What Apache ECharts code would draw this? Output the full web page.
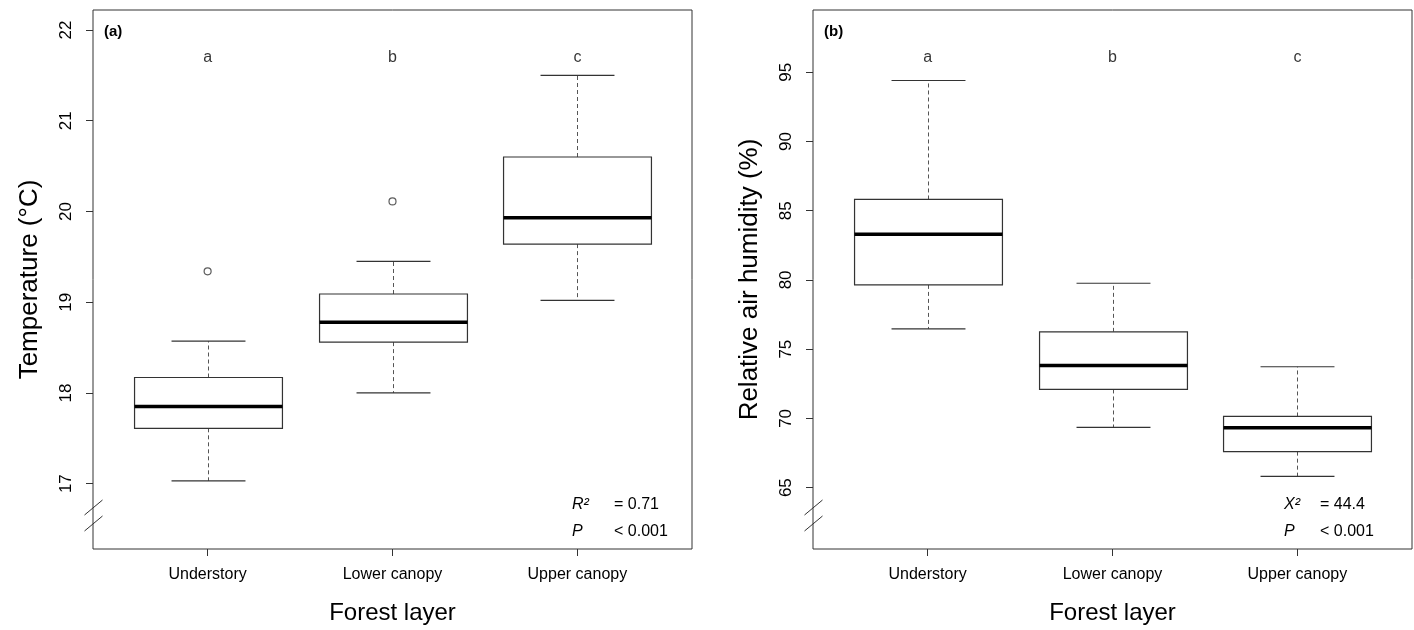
<!DOCTYPE html>
<html><head><meta charset="utf-8">
<script src="https://cdn.jsdelivr.net/npm/echarts@6/dist/echarts.min.js"></script>
<style>html,body{margin:0;padding:0;background:#fff}#c{width:1414px;height:630px}</style>
</head><body><div id="c"></div>
<script>
// ---------- data ----------
const categories = ['Understory', 'Lower canopy', 'Upper canopy'];
// each box: [lower whisker, Q1, median, Q3, upper whisker]
const tempBoxes = [
  [17.03, 17.61, 17.85, 18.17, 18.57],
  [18.00, 18.56, 18.78, 19.09, 19.45],
  [19.02, 19.64, 19.93, 20.60, 21.50]
];
const tempOutliers = [[1, 19.34], [2, 20.11]];
const humBoxes = [
  [76.47, 79.64, 83.30, 85.81, 94.40],
  [69.35, 72.09, 73.82, 76.25, 79.76],
  [65.81, 67.60, 69.33, 70.14, 73.73]
];
const humOutliers = [];
const tempTicks = [17, 18, 19, 20, 21, 22];
const humTicks = [65, 70, 75, 80, 85, 90, 95];
const groupLetters = ['a', 'b', 'c'];
const statsA = [['R²', '= 0.71'], ['P', '< 0.001']];
const statsB = [['X²', '= 44.4'], ['P', '< 0.001']];

// ---------- layout ----------
const FONT = '"Liberation Sans", Arial, sans-serif';
const INK = '#333';
const panels = [
  { left: 93, top: 10, width: 599, height: 541, ymin: 16.28, ymax: 22.22, letterY: 21.70,
    ticks: tempTicks, boxes: tempBoxes, outliers: tempOutliers, yname: 'Temperature (°C)',
    tag: '(a)', stats: statsA, statX: [572, 614] },
  { left: 813, top: 10, width: 599, height: 541, ymin: 60.57, ymax: 99.49, letterY: 96.03,
    ticks: humTicks, boxes: humBoxes, outliers: humOutliers, yname: 'Relative air humidity (%)',
    tag: '(b)', stats: statsB, statX: [1284, 1320] }
];

function renderBox(params, api) {
  const x = api.value(0);
  const lo = api.coord([x, api.value(1)]);
  const q1 = api.coord([x, api.value(2)]);
  const md = api.coord([x, api.value(3)]);
  const q3 = api.coord([x, api.value(4)]);
  const hi = api.coord([x, api.value(5)]);
  const hb = api.size([0.4, 0])[0];
  const hc = api.size([0.2, 0])[0];
  const cx = Math.round(lo[0]) + 0.5;
  const dash = { stroke: '#555', lineWidth: 1, lineDash: [4, 3] };
  const solid = { stroke: INK, lineWidth: 1.2 };
  return { type: 'group', children: [
    { type: 'line', shape: { x1: cx, y1: q3[1], x2: cx, y2: hi[1] }, style: dash },
    { type: 'line', shape: { x1: cx, y1: q1[1], x2: cx, y2: lo[1] }, style: dash },
    { type: 'line', shape: { x1: cx - hc, y1: hi[1], x2: cx + hc, y2: hi[1] }, style: solid },
    { type: 'line', shape: { x1: cx - hc, y1: lo[1], x2: cx + hc, y2: lo[1] }, style: solid },
    { type: 'rect', shape: { x: cx - hb, y: q3[1], width: 2 * hb, height: q1[1] - q3[1] },
      style: { fill: '#fff', stroke: INK, lineWidth: 1.2 } },
    { type: 'line', shape: { x1: cx - hb, y1: md[1], x2: cx + hb, y2: md[1] },
      style: { stroke: '#000', lineWidth: 3.5 } }
  ]};
}

const grid = [], xAxis = [], yAxis = [], series = [];
panels.forEach((p, i) => {
  grid.push({ left: p.left, top: p.top, width: p.width, height: p.height, show: true,
    borderColor: INK, borderWidth: 1, backgroundColor: 'transparent' });
  xAxis.push({ type: 'value', gridIndex: i, min: 0.38, max: 3.62,
    axisLine: { show: false }, splitLine: { show: false },
    axisTick: { show: true, length: 7, customValues: [1, 2, 3], lineStyle: { color: INK } },
    axisLabel: { customValues: [1, 2, 3], formatter: v => categories[Math.round(v) - 1] || '',
      color: '#000', fontFamily: FONT, fontSize: 16, margin: 18 },
    name: 'Forest layer', nameLocation: 'middle', nameGap: 52,
    nameTextStyle: { color: '#000', fontFamily: FONT, fontSize: 24 } });
  yAxis.push({ type: 'value', gridIndex: i, min: p.ymin, max: p.ymax,
    axisLine: { show: false }, splitLine: { show: false },
    axisTick: { show: true, length: 7, customValues: p.ticks, lineStyle: { color: INK } },
    axisLabel: { customValues: p.ticks, rotate: 90, color: '#000', fontFamily: FONT, fontSize: 17, margin: 18 },
    name: p.yname, nameLocation: 'middle', nameGap: 50,
    nameTextStyle: { color: '#000', fontFamily: FONT, fontSize: 26 } });
  series.push({ type: 'custom', xAxisIndex: i, yAxisIndex: i, renderItem: renderBox,
    encode: { x: 0, y: [1, 2, 3, 4, 5] }, silent: true,
    data: p.boxes.map((b, k) => [k + 1].concat(b)) });
  series.push({ type: 'scatter', xAxisIndex: i, yAxisIndex: i, symbol: 'circle', symbolSize: 7,
    itemStyle: { color: '#fff', borderColor: INK, borderWidth: 1.2 }, silent: true, z: 5,
    data: p.outliers });
  series.push({ type: 'scatter', xAxisIndex: i, yAxisIndex: i, symbolSize: 0, silent: true,
    label: { show: true, position: 'inside', formatter: d => groupLetters[d.dataIndex],
      color: '#000', fontFamily: FONT, fontSize: 16 },
    data: groupLetters.map((l, k) => [k + 1, p.letterY]) });
});

const chart = echarts.init(document.getElementById('c'), null, { renderer: 'canvas' });
chart.setOption({ animation: false, backgroundColor: '#fff', grid, xAxis, yAxis, series });

// decorations: panel tags, axis-break slashes, statistics
const graphic = [];
panels.forEach((p, i) => {
  graphic.push({ type: 'text', left: p.left + 11, top: 24,
    style: { text: p.tag, fill: '#000', font: 'bold 15px ' + FONT } });
  const ax = p.left + 0.5;
  const yb = chart.convertToPixel({ yAxisIndex: i }, p.ymin);
  [[yb - 34, yb - 49], [yb - 18, yb - 33]].forEach(([y1, y2]) => {
    graphic.push({ type: 'line', shape: { x1: ax - 9, y1, x2: ax + 9, y2 },
      style: { stroke: INK, lineWidth: 1 } });
  });
  p.stats.forEach((row, r) => {
    const y = 497 + r * 27;
    graphic.push({ type: 'text', left: p.statX[0], top: y,
      style: { text: row[0], fill: '#000', font: 'italic 16px ' + FONT } });
    graphic.push({ type: 'text', left: p.statX[1], top: y,
      style: { text: row[1], fill: '#000', font: '16px ' + FONT } });
  });
});
chart.setOption({ graphic });
</script></body></html>
